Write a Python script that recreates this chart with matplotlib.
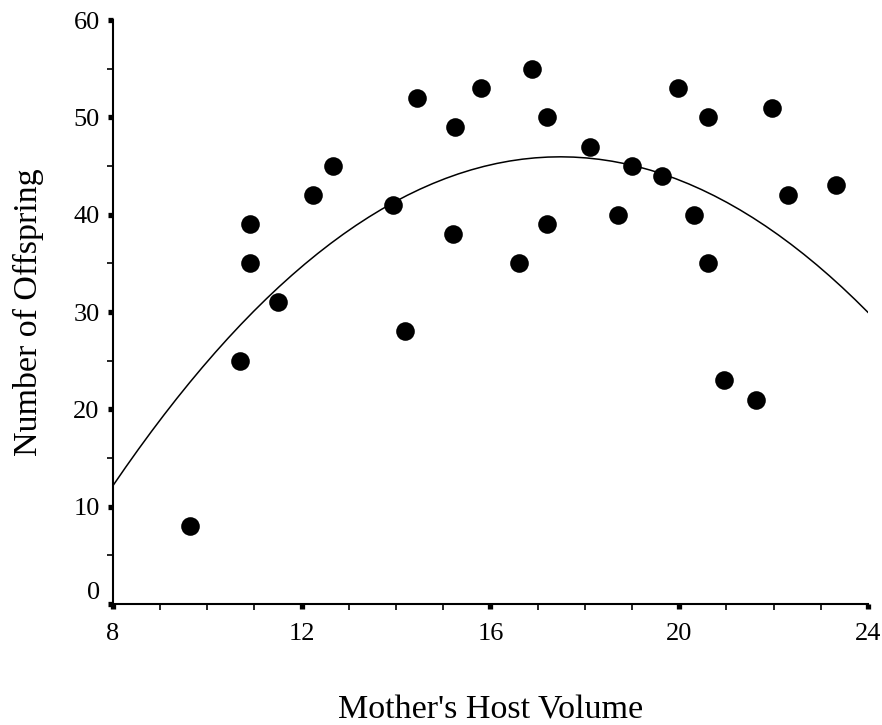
import numpy as np
import matplotlib
matplotlib.use("Agg")
import matplotlib.pyplot as plt
from matplotlib.ticker import MultipleLocator

# mother's host volume vs number of offspring
host_volume = [9.63, 10.69, 10.90, 10.90, 11.49, 12.24, 12.67, 13.94, 14.19, 14.45,
               15.21, 15.25, 15.80, 16.60, 16.88, 17.19, 17.19, 18.12, 18.71, 19.00,
               19.64, 19.98, 20.32, 20.61, 20.61, 20.95, 21.62, 21.96, 22.30, 23.32]
offspring = [8, 25, 35, 39, 31, 42, 45, 41, 28, 52,
             38, 49, 53, 35, 55, 50, 39, 47, 40, 45,
             44, 53, 40, 50, 35, 23, 21, 51, 42, 43]

x_ticks = [8, 12, 16, 20, 24]
y_ticks = [0, 10, 20, 30, 40, 50, 60]

plt.rcParams["font.family"] = ["Liberation Serif", "DejaVu Serif"]

fig = plt.figure(figsize=(8.82, 7.25), dpi=100)
ax = fig.add_axes([0.128, 0.1669, 0.856, 0.8055])

ax.scatter(host_volume, offspring, s=180, color="black", zorder=3, linewidths=0)

# quadratic fit through the points
coef = np.polyfit(host_volume, offspring, 2)
xs = np.linspace(8, 24, 60)
ax.plot(xs, np.polyval(coef, xs), color="black", lw=1.1)

ax.set_xlim(8, 24)
ax.set_ylim(0, 60)
ax.set_xticks(x_ticks)
ax.set_yticks(y_ticks)
ax.xaxis.set_minor_locator(MultipleLocator(1))
ax.yaxis.set_minor_locator(MultipleLocator(5))

for s in ["top", "right"]:
    ax.spines[s].set_visible(False)
for s in ["left", "bottom"]:
    ax.spines[s].set_linewidth(1.5)

ax.tick_params(which="major", direction="out", length=3.5, width=3.8, labelsize=19)
ax.tick_params(axis="x", which="major", pad=10)
ax.tick_params(axis="y", which="major", pad=6)
ax.tick_params(which="minor", direction="out", length=4.5, width=1.2)

ax.yaxis.get_major_ticks()[0].label1.set_verticalalignment("bottom")

ax.set_xlabel("Mother's Host Volume", fontsize=24.5, labelpad=36)
ax.set_ylabel("Number of Offspring", fontsize=24.5, labelpad=21)

fig.savefig("out.png", dpi=100)
